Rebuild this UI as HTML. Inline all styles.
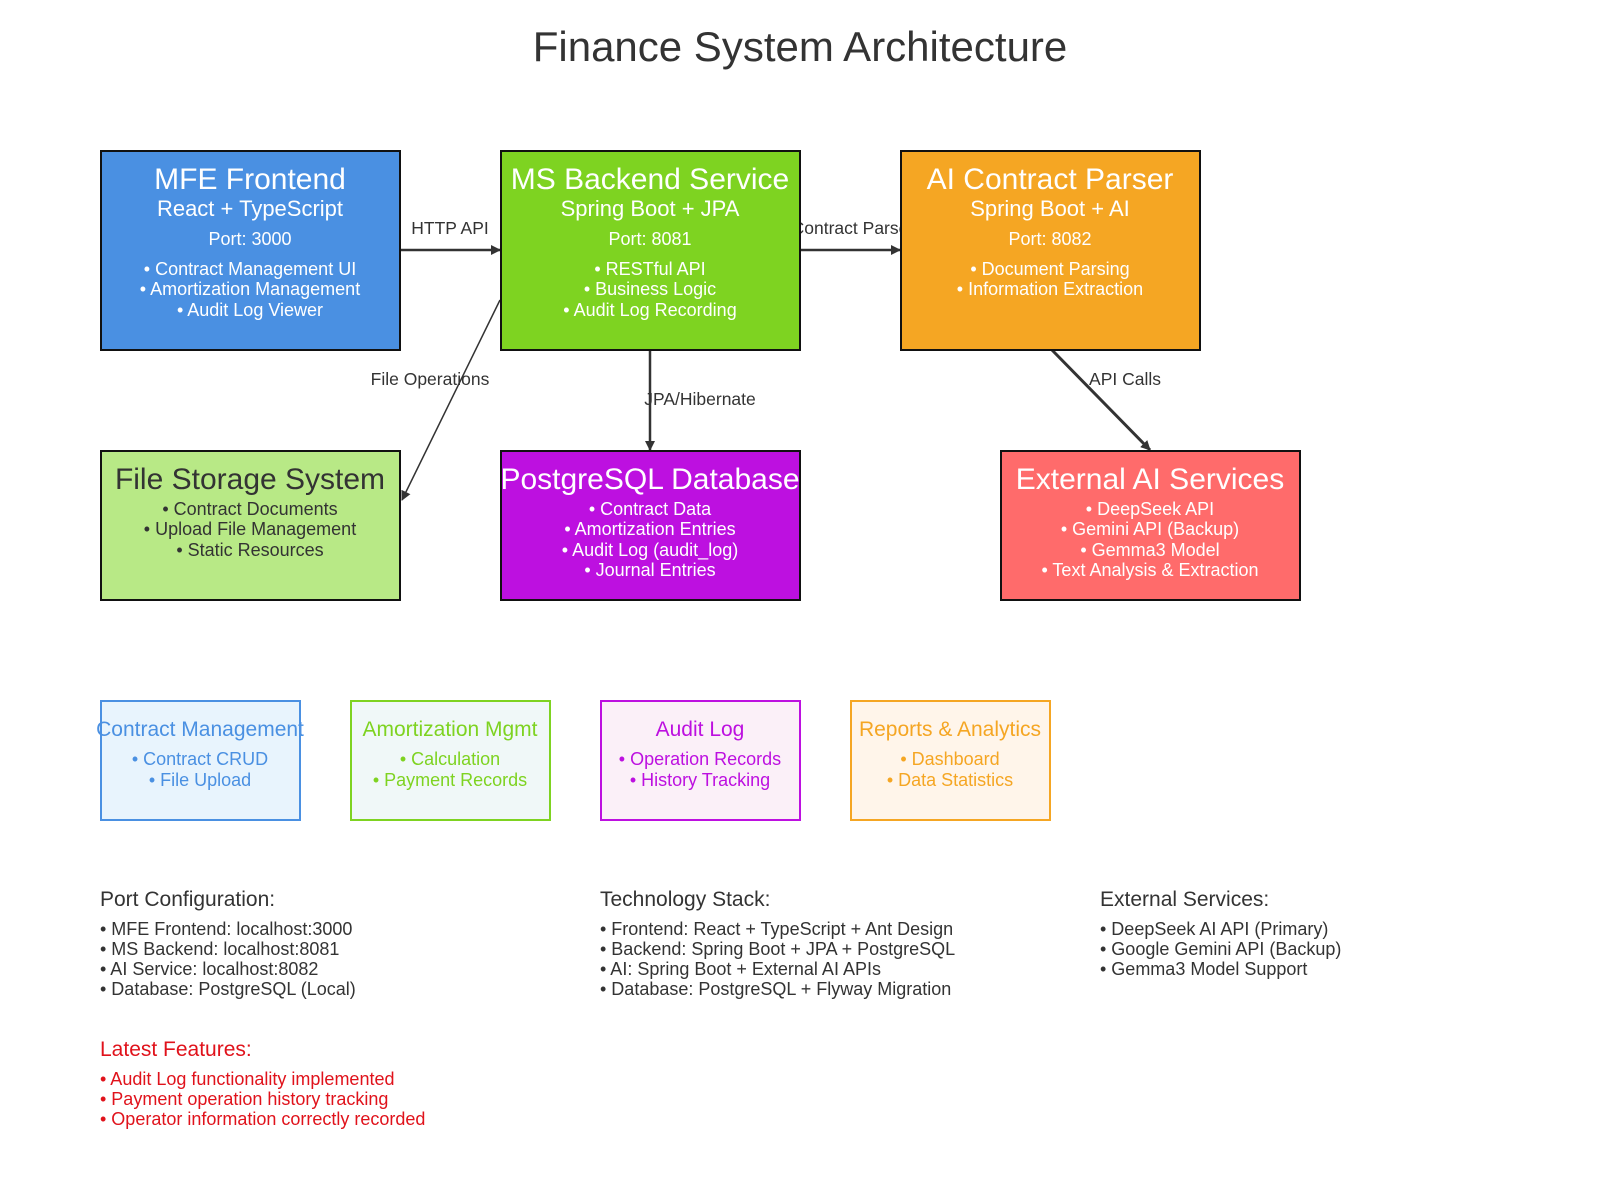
<!DOCTYPE html>
<html><head><meta charset="utf-8"><style>html,body{margin:0;padding:0;background:#fff}svg{display:block}text{font-family:"Liberation Sans",Arial,sans-serif}</style></head>
<body>
<svg width="1600" height="1200" viewBox="0 0 1600 1200" xmlns="http://www.w3.org/2000/svg">
<defs>
<marker id="ar" markerWidth="10" markerHeight="10" refX="9" refY="5" orient="auto" markerUnits="userSpaceOnUse"><path d="M0,0 L10,5 L0,10 z" fill="#333"/></marker>
</defs>
<rect width="1600" height="1200" fill="#fff"/>
<text x="800" y="61" text-anchor="middle" font-size="42" fill="#333">Finance System Architecture</text>

<line x1="400" y1="250" x2="500" y2="250" stroke="#333" stroke-width="2.5" marker-end="url(#ar)"/>
<text x="450" y="234" text-anchor="middle" font-size="17.5" fill="#333">HTTP API</text>
<line x1="800" y1="250" x2="900" y2="250" stroke="#333" stroke-width="2.5" marker-end="url(#ar)"/>
<text x="850" y="234" text-anchor="middle" font-size="17.5" fill="#333">Contract Parse</text>
<line x1="650" y1="350" x2="650" y2="450" stroke="#333" stroke-width="2.5" marker-end="url(#ar)"/>
<text x="700" y="405" text-anchor="middle" font-size="17.5" fill="#333">JPA/Hibernate</text>
<line x1="500" y1="300" x2="402" y2="500" stroke="#333" stroke-width="1.5" marker-end="url(#ar)"/>
<text x="430" y="385" text-anchor="middle" font-size="17.5" fill="#333">File Operations</text>
<line x1="1052" y1="350" x2="1150" y2="450" stroke="#333" stroke-width="3" marker-end="url(#ar)"/>
<text x="1125" y="385" text-anchor="middle" font-size="17.5" fill="#333">API Calls</text>

<g font-size="18" fill="#fff" text-anchor="middle">
<rect x="101" y="151" width="299" height="199" fill="#4a90e2" stroke="#111" stroke-width="2"/>
<text x="250" y="189" font-size="30">MFE Frontend</text>
<text x="250" y="216" font-size="22">React + TypeScript</text>
<text x="250" y="245">Port: 3000</text>
<text x="250" y="275">• Contract Management UI</text>
<text x="250" y="295">• Amortization Management</text>
<text x="250" y="316">• Audit Log Viewer</text>

<rect x="501" y="151" width="299" height="199" fill="#7ed321" stroke="#111" stroke-width="2"/>
<text x="650" y="189" font-size="30">MS Backend Service</text>
<text x="650" y="216" font-size="22">Spring Boot + JPA</text>
<text x="650" y="245">Port: 8081</text>
<text x="650" y="275">• RESTful API</text>
<text x="650" y="295">• Business Logic</text>
<text x="650" y="316">• Audit Log Recording</text>

<rect x="901" y="151" width="299" height="199" fill="#f5a623" stroke="#111" stroke-width="2"/>
<text x="1050" y="189" font-size="30">AI Contract Parser</text>
<text x="1050" y="216" font-size="22">Spring Boot + AI</text>
<text x="1050" y="245">Port: 8082</text>
<text x="1050" y="275">• Document Parsing</text>
<text x="1050" y="295">• Information Extraction</text>

<rect x="101" y="451" width="299" height="149" fill="#b8e986" stroke="#111" stroke-width="2"/>
<g fill="#333">
<text x="250" y="489" font-size="30">File Storage System</text>
<text x="250" y="515">• Contract Documents</text>
<text x="250" y="535">• Upload File Management</text>
<text x="250" y="556">• Static Resources</text>
</g>
<rect x="501" y="451" width="299" height="149" fill="#bd10e0" stroke="#111" stroke-width="2"/>
<text x="650" y="489" font-size="30">PostgreSQL Database</text>
<text x="650" y="515">• Contract Data</text>
<text x="650" y="535">• Amortization Entries</text>
<text x="650" y="556">• Audit Log (audit_log)</text>
<text x="650" y="576">• Journal Entries</text>

<rect x="1001" y="451" width="299" height="149" fill="#ff6b6b" stroke="#111" stroke-width="2"/>
<text x="1150" y="489" font-size="30">External AI Services</text>
<text x="1150" y="515">• DeepSeek API</text>
<text x="1150" y="535">• Gemini API (Backup)</text>
<text x="1150" y="556">• Gemma3 Model</text>
<text x="1150" y="576">• Text Analysis &amp; Extraction</text>
</g>

<g text-anchor="middle" font-size="18">
<rect x="101" y="701" width="199" height="119" fill="#e8f4fd" stroke="#4a90e2" stroke-width="2"/>
<text x="200" y="736" font-size="21" fill="#4a90e2">Contract Management</text>
<text x="200" y="765" fill="#4a90e2">• Contract CRUD</text>
<text x="200" y="786" fill="#4a90e2">• File Upload</text>

<rect x="351" y="701" width="199" height="119" fill="#f0f8f8" stroke="#7ed321" stroke-width="2"/>
<text x="450" y="736" font-size="21" fill="#7ed321">Amortization Mgmt</text>
<text x="450" y="765" fill="#7ed321">• Calculation</text>
<text x="450" y="786" fill="#7ed321">• Payment Records</text>

<rect x="601" y="701" width="199" height="119" fill="#fbf0f8" stroke="#bd10e0" stroke-width="2"/>
<text x="700" y="736" font-size="21" fill="#bd10e0">Audit Log</text>
<text x="700" y="765" fill="#bd10e0">• Operation Records</text>
<text x="700" y="786" fill="#bd10e0">• History Tracking</text>

<rect x="851" y="701" width="199" height="119" fill="#fff5ea" stroke="#f5a623" stroke-width="2"/>
<text x="950" y="736" font-size="21" fill="#f5a623">Reports &amp; Analytics</text>
<text x="950" y="765" fill="#f5a623">• Dashboard</text>
<text x="950" y="786" fill="#f5a623">• Data Statistics</text>
</g>

<g font-size="18" fill="#333">
<text x="100" y="906" font-size="21">Port Configuration:</text>
<text x="100" y="935">• MFE Frontend: localhost:3000</text>
<text x="100" y="955">• MS Backend: localhost:8081</text>
<text x="100" y="975">• AI Service: localhost:8082</text>
<text x="100" y="995">• Database: PostgreSQL (Local)</text>

<text x="600" y="906" font-size="21">Technology Stack:</text>
<text x="600" y="935">• Frontend: React + TypeScript + Ant Design</text>
<text x="600" y="955">• Backend: Spring Boot + JPA + PostgreSQL</text>
<text x="600" y="975">• AI: Spring Boot + External AI APIs</text>
<text x="600" y="995">• Database: PostgreSQL + Flyway Migration</text>

<text x="1100" y="906" font-size="21">External Services:</text>
<text x="1100" y="935">• DeepSeek AI API (Primary)</text>
<text x="1100" y="955">• Google Gemini API (Backup)</text>
<text x="1100" y="975">• Gemma3 Model Support</text>
</g>
<g font-size="18" fill="#e0121b">
<text x="100" y="1056" font-size="21">Latest Features:</text>
<text x="100" y="1085">• Audit Log functionality implemented</text>
<text x="100" y="1105">• Payment operation history tracking</text>
<text x="100" y="1125">• Operator information correctly recorded</text>
</g>
</svg>
</body></html>
